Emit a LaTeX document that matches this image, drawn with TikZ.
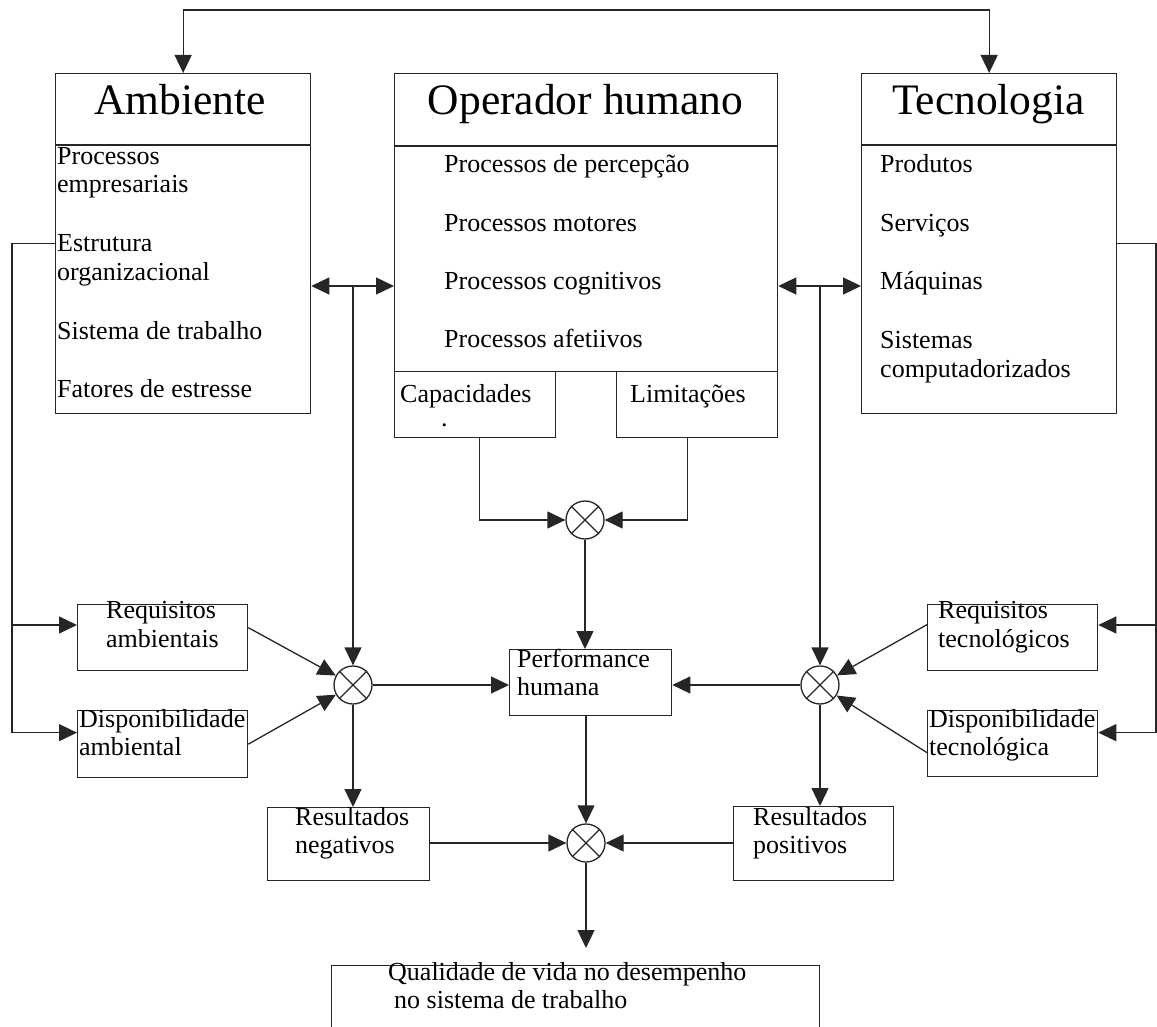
\documentclass[tikz,border=0pt]{standalone}
\usepackage{fontspec}
\setmainfont{Liberation Serif}
\usetikzlibrary{arrows.meta,calc}

\tikzset{
  ln/.style={line width=1.3pt, draw=black!85},
  tip/.style={},
  arr/.style={ln, -{Triangle[length=18pt,width=17pt]}},
  dbl/.style={ln, {Triangle[length=18pt,width=17pt]}-{Triangle[length=18pt,width=17pt]}},
  box/.style={ln, rectangle, inner sep=0pt, anchor=north west},
  mix/.style={ln, circle, minimum size=38pt, inner sep=0pt},
  head/.style={font=\fontsize{43.5}{46}\selectfont, inner sep=0pt, anchor=base},
  txt/.style={font=\fontsize{26}{28}\selectfont, anchor=base west, inner sep=0pt},
}

\begin{document}
\begin{tikzpicture}[x=1pt,y=-1pt]
\path[use as bounding box] (0,0) rectangle (1157,1027);
\clip (0,0) rectangle (1157,1027);

% ---- main blocks ----
\node[box, minimum width=255pt, minimum height=340pt] (amb) at (55,73) {};
\node[box, minimum width=383pt, minimum height=298pt] (op)  at (394,73) {};
\node[box, minimum width=255pt, minimum height=340pt] (tec) at (861,73) {};
\node[box, minimum width=161pt, minimum height=66pt] (cap) at (394,371) {};
\node[box, minimum width=161pt, minimum height=66pt] (lim) at (616,371) {};

\draw[ln] ($(amb.north west)+(0,72)$) -- ($(amb.north east)+(0,72)$);
\draw[ln] ($(op.north west)+(0,73)$) -- ($(op.north east)+(0,73)$);
\draw[ln] ($(tec.north west)+(0,72)$) -- ($(tec.north east)+(0,72)$);

\node[head] (hamb) at (180,115) {Ambiente};
\node[head] (hop)  at (585.5,115) {Operador humano};
\node[head] (htec) at (988.5,115) {Tecnologia};

% Ambiente items
\node[txt] (a1) at (57,165) {Processos};
\node[txt] (a2) at (57,193) {empresariais};
\node[txt] (a3) at (57,252) {Estrutura};
\node[txt] (a4) at (57,280) {organizacional};
\node[txt] (a5) at (57,339) {Sistema de trabalho};
\node[txt] (a6) at (57,397) {Fatores de estresse};

% Operador humano items
\node[txt] (o1) at (444,173) {Processos de percepção};
\node[txt] (o2) at (444,232) {Processos motores};
\node[txt] (o3) at (444,290) {Processos cognitivos};
\node[txt] (o4) at (444,347) {Processos afetiivos};
\node[txt] (c1) at (400,402) {Capacidades};
\node[txt] (c2) at (441,426) {.};
\node[txt] (l1) at (630,402) {Limitações};

% Tecnologia items
\node[txt] (t1) at (880,173) {Produtos};
\node[txt] (t2) at (880,232) {Serviços};
\node[txt] (t3) at (880,290) {Máquinas};
\node[txt] (t4) at (880,348) {Sistemas};
\node[txt] (t5) at (880,377) {computadorizados};

% ---- lower blocks ----
\node[box, minimum width=170pt, minimum height=66pt] (reqa)  at (77,604) {};
\node[box, minimum width=170pt, minimum height=67pt] (dispa) at (77,710) {};
\node[box, minimum width=170pt, minimum height=66pt] (reqt)  at (927,604) {};
\node[box, minimum width=170pt, minimum height=66pt] (dispt) at (927,710) {};
\node[box, minimum width=162pt, minimum height=66pt] (perf)  at (509,649) {};
\node[box, minimum width=162pt, minimum height=73pt] (resn)  at (267,807) {};
\node[box, minimum width=160pt, minimum height=74pt] (resp)  at (733,806) {};
\node[box, minimum width=488pt, minimum height=90pt] (qual)  at (331,965) {};

\node[txt] (ra1) at (106,618) {Requisitos};
\node[txt] (ra2) at (106,647) {ambientais};
\node[txt] (da1) at (79,727) {Disponibilidade};
\node[txt] (da2) at (79,755) {ambiental};
\node[txt] (rt1) at (938,618) {Requisitos};
\node[txt] (rt2) at (938,647) {tecnológicos};
\node[txt] (dt1) at (929,727) {Disponibilidade};
\node[txt] (dt2) at (929,755) {tecnológica};
\node[txt] (p1) at (517,667) {Performance};
\node[txt] (p2) at (517,695) {humana};
\node[txt] (rn1) at (295,825) {Resultados};
\node[txt] (rn2) at (295,853) {negativos};
\node[txt] (rp1) at (753,825) {Resultados};
\node[txt] (rp2) at (753,853) {positivos};
\node[txt] (q1) at (388,980) {Qualidade de vida no desempenho};
\node[txt] (q2) at (394,1008) {no sistema de trabalho};

% ---- combination points ----
\node[mix] (xt) at (585,520) {};
\node[mix] (xl) at (353,685) {};
\node[mix] (xr) at (820,685) {};
\node[mix] (xb) at (586,843) {};
\foreach \m in {xt,xl,xr,xb}
  \draw[ln] (\m.north west) -- (\m.south east) (\m.north east) -- (\m.south west);

% ---- connectors ----
\coordinate (topbar) at (585,10);
\draw[dbl] (amb.north) |- (topbar) -| (tec.north);

\coordinate (jl) at (353,286);
\coordinate (jr) at (820,286);
\draw[dbl] (jl -| amb.east) -- (jl -| op.west);
\draw[dbl] (jr -| op.east) -- (jr -| tec.west);
\draw[arr] (jl) -- (xl);
\draw[arr] (jr) -- (xr);

\draw[arr] ([xshift=4.5pt]cap.south) |- (xt);
\draw[arr] ([xshift=-9.5pt]lim.south) |- (xt);
\draw[arr] (xt) -- (xt |- perf.north);

% environment feedback
\coordinate (lfb) at (12,625);
\draw[arr] (amb.west) -| (lfb) |- ([yshift=11.5pt]dispa.west);
\draw[arr] (lfb) -- (lfb -| reqa.west);

% technology feedback
\coordinate (rfb) at (1156,625);
\draw[arr] (tec.east) -| (rfb) |- ([yshift=11pt]dispt.east);
\draw[arr] (rfb) -- (rfb -| reqt.east);

\draw[arr] ([yshift=10pt]reqa.east) -- (xl);
\draw[arr] (dispa.east) -- (xl);
\draw[arr] ([yshift=13pt]reqt.west) -- (xr);
\draw[arr] ([yshift=-9pt]dispt.west) -- (xr);

\draw[arr] (xl) -- (xl -| perf.west);
\draw[arr] (xr) -- (xr -| perf.east);

\draw[arr] (xl) -- (xl |- resn.north);
\draw[arr] (xr) -- (xr |- resp.north);
\draw[arr] (xb |- perf.south) -- (xb);
\draw[arr] (resn.east |- xb) -- (xb);
\draw[arr] (resp.west |- xb) -- (xb);

\coordinate (qtip) at (586,948);
\draw[arr] (xb) -- (qtip);
\end{tikzpicture}
\end{document}
